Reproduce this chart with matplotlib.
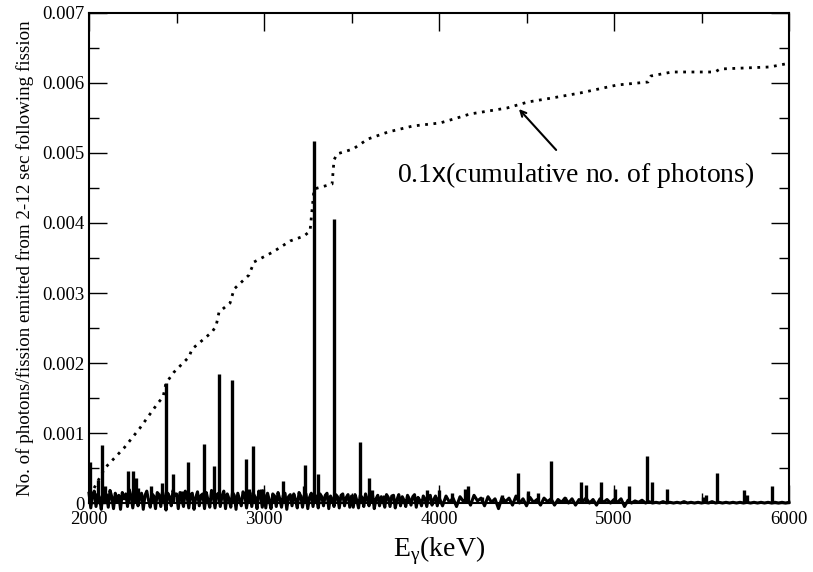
import numpy as np
import matplotlib
matplotlib.use("Agg")
import matplotlib.pyplot as plt

plt.rcParams['font.family'] = ['Liberation Serif', 'DejaVu Serif']
plt.rcParams['mathtext.fontset'] = 'custom'
plt.rcParams['mathtext.rm'] = 'Liberation Serif'
plt.rcParams['mathtext.sf'] = 'Liberation Sans'

# strong gamma lines (keV, photons/fission)
peak_e = [2006, 2051, 2074, 2091, 2223, 2251, 2269, 2280, 2354, 2417, 2440, 2480,
          2531, 2566, 2657, 2714, 2743, 2817, 2897, 2914, 2937, 2983, 2994, 3051,
          3109, 3229, 3234, 3286, 3309, 3400, 3549, 3600, 3617, 3686, 3817, 3931,
          4000, 4074, 4149, 4166, 4246, 4360, 4451, 4509, 4566, 4640, 4720, 4811,
          4840, 4926, 5006, 5086, 5189, 5217, 5303, 5509, 5526, 5589, 5743, 5760,
          5903]
peak_y = [0.00058, 0.00033, 0.00083, 0.00024, 0.00046, 0.00046, 0.00036, 0.00022,
          0.00024, 0.00028, 0.00172, 0.00041, 0.00017, 0.00058, 0.00085, 0.00053,
          0.00185, 0.00176, 0.00063, 0.00020, 0.00081, 0.00020, 0.00020, 0.00013,
          0.00031, 0.00024, 0.00054, 0.00517, 0.00042, 0.00405, 0.00087, 0.00036,
          0.00019, 0.00011, 0.00010, 0.00019, 0.00019, 0.00014, 0.00020, 0.00024,
          0.00009, 0.00011, 0.00043, 0.00017, 0.00015, 0.00060, 0.00009, 0.00030,
          0.00026, 0.00030, 0.00020, 0.00024, 0.00067, 0.00030, 0.00020, 0.00009,
          0.00011, 0.00043, 0.00019, 0.00011, 0.00024]

# background continuum (units of 1e-5): 10 keV bins 2000-3990, 20 keV bins 4000-6000
bg_e = np.concatenate([np.arange(2000, 4000, 10), np.arange(4000, 6001, 20)])
bg_y = np.array([
    # 2000-2490
    14, -7, 11, 17, -5, 13, 8, -9, 16, 4, 12, -6, 18, 9, -8, 14, 3, 11, -9, 15,
    6, 13, -5, 19, 10, -7, 12, 16, -4, 8, 14, -9, 11, 17, 4, -6, 13, 10, -8, 15,
    12, -5, 16, 6, -10, 14, 9, -4, 18, 11,
    # 2500-2990
    13, -8, 15, 5, -5, 17, 10, -7, 12, 14, -9, 8, 16, -4, 11, 13, -8, 15, 4, -6,
    18, 9, -7, 12, 14, -5, 10, 17, -8, 13, 6, -6, 15, 11, -9, 14, 5, -4, 16, 12,
    -7, 10, 15, -5, 13, 8, -8, 17, 11, -6,
    # 3000-3490
    12, -7, 14, 4, -8, 13, 10, -5, 15, 6, -6, 11, 14, -9, 9, 12, -4, 13, 5, -7,
    15, 10, -6, 11, 13, -8, 8, 14, -5, 12, 6, -7, 13, 9, -4, 11, 14, -8, 10, 5,
    -5, 12, 9, -7, 11, 13, -4, 8, 12, -6,
    # 3500-3990
    10, -6, 12, 4, -7, 11, 8, -5, 13, 5, -4, 10, 12, -8, 6, 11, -4, 9, 4, -6,
    12, 8, -5, 10, 11, -7, 5, 12, -4, 9, 4, -5, 11, 6, -3, 9, 12, -6, 8, 4,
    -4, 10, 6, -5, 9, 11, -3, 5, 10, -4,
    # 4000-4980
    8, -4, 10, 1, 7, -5, 9, 2, 8, -3, 11, 3, 7, -4, 9, 1, 6, -8, 8, 2,
    7, -3, 10, 0, 6, -4, 8, 1, 5, -3, 7, 2, 6, -3, 5, 1, 7, 0, 6, -3,
    5, 2, 7, 0, 5, -3, 6, 1, 5, 0,
    # 5000-6000
    5, 1, 6, -5, 4, 0, 3, 1, 4, 0, 2, 0, 1, 0, 2, 0, 1, 0, 1, 0,
    2, 0, 1, 0, 1, 0, 1, 0, 2, 0, 1, 0, 1, 0, 1, 0, 1, 0, 1, 0,
    1, 0, 1, 0, 1, 0, 1, 0, 1, 0, 1]) * 1e-5

# 0.1 x cumulative number of photons
cum_e = [2029, 2091, 2200, 2291, 2394, 2423, 2440, 2486, 2571, 2589, 2703, 2726,
         2743, 2806, 2829, 2914, 2943, 3051, 3149, 3229, 3263, 3286, 3389, 3400,
         3417, 3509, 3594, 3709, 3851, 4006, 4103, 4177, 4389, 4509, 4646, 4806,
         5017, 5194, 5211, 5331, 5577, 5606, 5891, 5977]
cum_y = [0.000214, 0.000500, 0.000786, 0.001071, 0.001429, 0.001514, 0.001714,
         0.001871, 0.002086, 0.002200, 0.002443, 0.002529, 0.002729, 0.002857,
         0.003057, 0.003257, 0.003443, 0.003586, 0.003743, 0.003814, 0.003886,
         0.004486, 0.004557, 0.004900, 0.004986, 0.005057, 0.005200, 0.005300,
         0.005386, 0.005429, 0.005500, 0.005557, 0.005643, 0.005729, 0.005786,
         0.005857, 0.005971, 0.006014, 0.006100, 0.006157, 0.006157, 0.006200,
         0.006229, 0.006271]

fig = plt.figure(figsize=(8.13, 5.72), dpi=100)
ax = fig.add_axes([0.1095, 0.1206, 0.861, 0.8567])

ax.plot(bg_e, bg_y, color='black', lw=2.2, clip_on=False)
ax.vlines(peak_e, 0, peak_y, color='black', lw=2.4)
ax.plot(cum_e, cum_y, color='black', lw=2, dashes=(1, 2))

ax.set_xlim(2000, 6000)
ax.set_ylim(0, 0.007)
ax.set_xticks([2000, 3000, 4000, 5000, 6000])
ax.set_xticks([2500, 3500, 4500, 5500], minor=True)
ax.set_yticks(np.arange(0, 0.0071, 0.001))
ax.set_yticks(np.arange(0.0005, 0.007, 0.001), minor=True)
ax.set_yticklabels(['0', '0.001', '0.002', '0.003', '0.004', '0.005', '0.006', '0.007'])
ax.tick_params(which='both', direction='in', top=True, right=True, labelsize=13.5, width=1)
ax.tick_params(which='major', length=13)
ax.tick_params(which='minor', length=7)
ax.tick_params(axis='x', pad=6)
for s in ax.spines.values():
    s.set_linewidth(1.5)

ax.set_xlabel(r'E$_{\mathrm{\gamma}}$(keV)', fontsize=20, labelpad=4)
ax.set_ylabel('No. of photons/fission emitted from 2-12 sec following fission', fontsize=13.7, labelpad=6)

ax.annotate('', xy=(4446, 0.005657), xytext=(4680, 0.005014),
            arrowprops=dict(arrowstyle='->', color='black', lw=1.5))
ax.text(3760, 0.004686, r'0.1$\mathsf{x}$(cumulative no. of photons)', fontsize=20, va='center', ha='left')

fig.savefig('out.png', dpi=100)
